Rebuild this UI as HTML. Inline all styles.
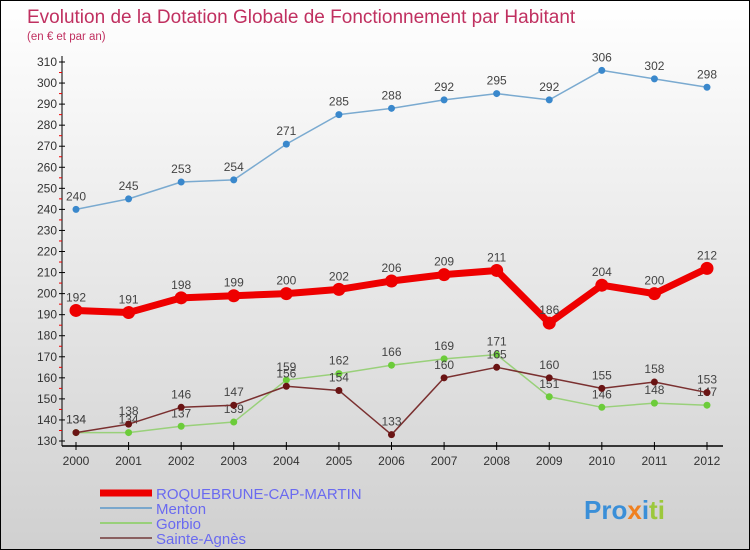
<!DOCTYPE html>
<html><head><meta charset="utf-8"><style>
body{margin:0}
#c{width:748px;height:548px;border:1px solid #000;background:linear-gradient(#fff,#d0d0d0);position:relative;font-family:"Liberation Sans",sans-serif;overflow:hidden}
</style></head><body>
<div id="c">
<svg id="s" width="748" height="548">
<text x="26" y="22" font-size="19" fill="#c03060">Evolution de la Dotation Globale de Fonctionnement par Habitant</text>
<text x="26" y="39" font-size="11.5" fill="#c03060">(en € et par an)</text>
<g id="axes"></g><g id="series"></g>
<g>
<line x1="99" y1="492" x2="151" y2="492" stroke="#e00" stroke-width="7"/>
<text x="155" y="498" font-size="15" fill="#6a6af0">ROQUEBRUNE-CAP-MARTIN</text>
<line x1="99" y1="507" x2="151" y2="507" stroke="#7aa7cc" stroke-width="2"/>
<text x="155" y="513" font-size="15" fill="#6a6af0">Menton</text>
<line x1="99" y1="522" x2="151" y2="522" stroke="#99d07a" stroke-width="2"/>
<text x="155" y="528" font-size="15" fill="#6a6af0">Gorbio</text>
<line x1="99" y1="537" x2="151" y2="537" stroke="#8a6060" stroke-width="2"/>
<text x="155" y="543" font-size="15" fill="#6a6af0">Sainte-Agnès</text>
</g>
<text x="583" y="518" font-size="26" font-weight="bold"><tspan fill="#3a8fd8">Pro</tspan><tspan fill="#f08020">x</tspan><tspan fill="#3a8fd8">i</tspan><tspan fill="#9cc83c">ti</tspan></text>
</svg></div>
<script>
const years=[2000,2001,2002,2003,2004,2005,2006,2007,2008,2009,2010,2011,2012];
const yTicks=[130,140,150,160,170,180,190,200,210,220,230,240,250,260,270,280,290,300,310];
const roquebrune=[192,191,198,199,200,202,206,209,211,186,204,200,212];
const menton=[240,245,253,254,271,285,288,292,295,292,306,302,298];
const gorbio=[134,134,137,139,159,162,166,169,171,151,146,148,147];
const sainteAgnes=[134,138,146,147,156,154,133,160,165,160,155,158,153];
const NS="http://www.w3.org/2000/svg";
const x=i=>75+i*(706-75)/(years.length-1);
const y=v=>440-(v-130)*(440-61)/180;
function mk(t,a,p){const e=document.createElementNS(NS,t);for(const k in a)e.setAttribute(k,a[k]);p.appendChild(e);return e;}
const ax=document.getElementById('axes');
let l=mk('line',{x1:61,y1:55,x2:61,y2:445,stroke:'#000'},ax);


l=mk('line',{x1:61,y1:445,x2:722,y2:445,stroke:'#000','stroke-width':1.5},ax);


yTicks.forEach(v=>{mk('line',{x1:58,x2:64,y1:y(v),y2:y(v),stroke:'#000'},ax);
if(v<310)mk('line',{x1:58,x2:61,y1:y(v+5),y2:y(v+5),stroke:'#e00'},ax);
const t=mk('text',{x:56,y:y(v)+4,'font-size':12,'text-anchor':'end',fill:'#333'},ax);t.textContent=v;

});
years.forEach((yr,i)=>{mk('line',{x1:x(i),x2:x(i),y1:441,y2:449,stroke:'#000'},ax);
const t=mk('text',{x:x(i),y:464,'font-size':12,'text-anchor':'middle',fill:'#333'},ax);t.textContent=yr;

});
const sg=document.getElementById('series');
function series(data,name,color,w,r,dot){
const g=mk('g',{},sg);


const p=mk('polyline',{points:data.map((v,i)=>x(i)+','+y(v)).join(' '),fill:'none',stroke:color,'stroke-width':w,'stroke-linejoin':'round'},g);


data.forEach((v,i)=>{const c=mk('circle',{cx:x(i),cy:y(v),r:r,fill:dot},g);


const t=mk('text',{x:x(i),y:y(v)-9,'font-size':12,'text-anchor':'middle',fill:'#444'},g);t.textContent=v;

});}
series(menton,'menton','#7aaad0',1.5,3.5,'#3a88cc');
series(gorbio,'gorbio','#99d07a',1.5,3.5,'#6ccc3a');
series(sainteAgnes,'sainte-agnes','#7a3030',1.5,3.5,'#6a1414');
series(roquebrune,'roquebrune','#e00',7,6.5,'#e00');
</script>
</body></html>
